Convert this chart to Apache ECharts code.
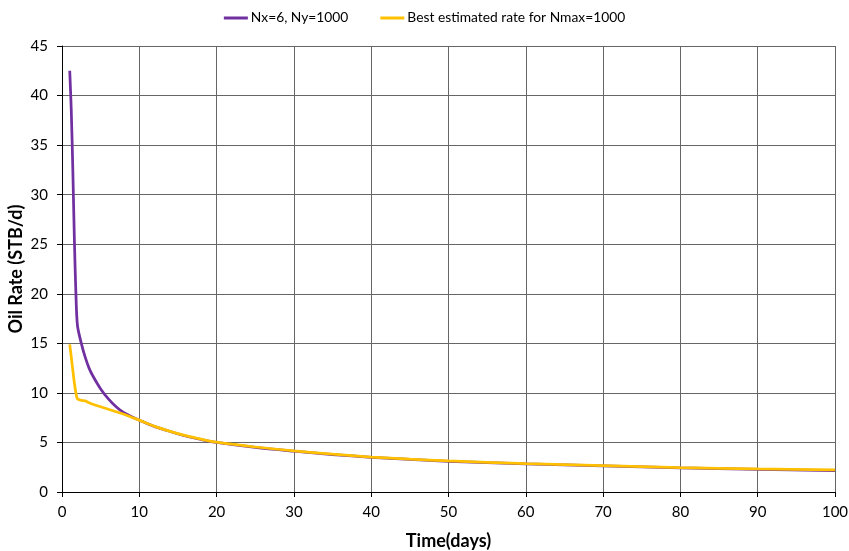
<!DOCTYPE html>
<html>
<head>
<meta charset="utf-8">
<script src="https://cdn.jsdelivr.net/npm/echarts@6/dist/echarts.min.js"></script>
<style>
  html, body { margin: 0; padding: 0; background: #fff; }
  #chart { width: 849px; height: 551px; }
</style>
</head>
<body>
<div id="chart"></div>
<script>
// Simulated oil production rate vs. time
const days = [1, 1.2, 1.4, 1.6, 1.8, 2, 2.5, 3, 3.5, 4, 5, 6, 7, 8, 9, 10, 12, 14, 16, 18, 20, 25, 30, 35, 40, 45, 50, 60, 70, 80, 90, 100];
const rateNx6 = [42.5, 38.5, 32.5, 25.5, 20, 16.8, 15.0, 13.6, 12.5, 11.7, 10.4, 9.4, 8.6, 8.0, 7.6, 7.25, 6.6, 6.1, 5.65, 5.3, 5.0, 4.5, 4.12, 3.78, 3.5, 3.28, 3.1, 2.83, 2.63, 2.43, 2.28, 2.15];
const rateBest = [14.9, 13.6, 12.3, 11.0, 10.0, 9.4, 9.25, 9.2, 9.0, 8.85, 8.6, 8.35, 8.1, 7.85, 7.55, 7.25, 6.62, 6.12, 5.68, 5.33, 5.03, 4.54, 4.15, 3.82, 3.53, 3.31, 3.14, 2.87, 2.67, 2.47, 2.33, 2.24];
const seriesNames = ['Nx=6, Ny=1000', 'Best estimated rate for Nmax=1000'];
const xTicks = [0, 10, 20, 30, 40, 50, 60, 70, 80, 90, 100];
const yTicks = [0, 5, 10, 15, 20, 25, 30, 35, 40, 45];

const FONT = 'Lato';
const pairs = (xs, ys) => xs.map((x, i) => [x, ys[i]]);

const chart = echarts.init(document.getElementById('chart'), null, { renderer: 'canvas' });
chart.setOption({
  animation: false,
  backgroundColor: '#ffffff',
  textStyle: { fontFamily: FONT },
  legend: {
    top: 6,
    left: 'center',
    itemWidth: 24,
    itemHeight: 3,
    itemGap: 32,
    icon: 'rect',
    textStyle: { fontFamily: FONT, fontSize: 13.8, color: '#000', padding: [0, 0, 0, -2] },
    data: seriesNames
  },
  grid: { left: 62, right: 14, top: 46, bottom: 59, containLabel: false, outerBoundsMode: 'none' },
  xAxis: {
    type: 'value',
    min: xTicks[0],
    max: xTicks[xTicks.length - 1],
    interval: xTicks[1] - xTicks[0],
    name: 'Time(days)',
    nameLocation: 'middle',
    nameGap: 40,
    nameMoveOverlap: false,
    nameTextStyle: { fontFamily: FONT, fontSize: 18, fontWeight: 'bold', color: '#000' },
    axisLine: { lineStyle: { color: '#000', width: 1 } },
    axisTick: { show: true, inside: false, length: 5, lineStyle: { color: '#000' } },
    axisLabel: { fontFamily: FONT, fontSize: 15, color: '#000', margin: 13 },
    splitLine: { show: true, lineStyle: { color: '#666666', width: 1 } }
  },
  yAxis: {
    type: 'value',
    min: yTicks[0],
    max: yTicks[yTicks.length - 1],
    interval: yTicks[1] - yTicks[0],
    name: 'Oil Rate (STB/d)',
    nameLocation: 'middle',
    nameGap: 37,
    nameMoveOverlap: false,
    nameRotate: 90,
    nameTextStyle: { fontFamily: FONT, fontSize: 18, fontWeight: 'bold', color: '#000' },
    axisLine: { show: true, lineStyle: { color: '#000', width: 1 } },
    axisTick: { show: true, inside: false, length: 5, lineStyle: { color: '#000' } },
    axisLabel: { fontFamily: FONT, fontSize: 15, color: '#000', margin: 14 },
    splitLine: { show: true, lineStyle: { color: '#666666', width: 1 } }
  },
  series: [
    {
      name: seriesNames[0],
      type: 'line',
      data: pairs(days, rateNx6),
      showSymbol: false,
      smooth: 0.3,
      color: '#7030A0',
      lineStyle: { width: 2.75, color: '#7030A0' },
      z: 2
    },
    {
      name: seriesNames[1],
      type: 'line',
      data: pairs(days, rateBest),
      showSymbol: false,
      smooth: 0.3,
      color: '#FFC000',
      lineStyle: { width: 2.75, color: '#FFC000' },
      z: 3
    }
  ]
});
</script>
</body>
</html>
